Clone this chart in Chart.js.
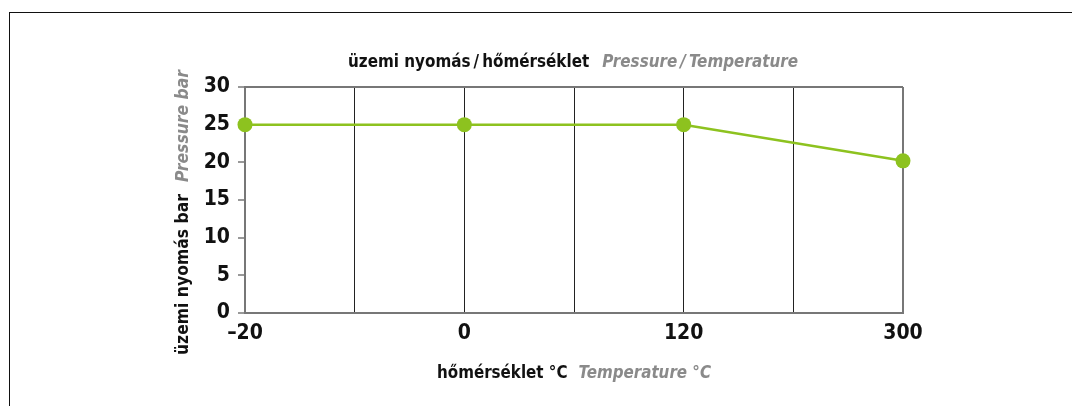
<!DOCTYPE html>
<html>
<head>
<meta charset="utf-8">
<script src="https://cdn.jsdelivr.net/npm/chart.js@4/dist/chart.umd.min.js"></script>
<style>
  html, body { margin: 0; padding: 0; background: #fff; }
  #wrap { position: relative; width: 1072px; height: 406px; }
  #frame {
    position: absolute; left: 9px; top: 12px; right: 0; bottom: 0;
    border-top: 1.5px solid #111; border-left: 1.5px solid #111;
  }
  canvas { position: absolute; left: 0; top: 0; }
</style>
</head>
<body>
<div id="wrap">
  <div id="frame"></div>
  <canvas id="chart" width="1072" height="406"></canvas>
</div>
<script>
// temperatures (°C) on the x axis, pressures (bar) on the y axis
const temperatures = ["\u201320", "0", "120", "300"];
const pressures = [25, 25, 25, 20.2];
const yTicks = [0, 5, 10, 15, 20, 25, 30];

const FONT = "'Liberation Sans Narrow', 'DejaVu Sans Condensed', 'Roboto', sans-serif";
const GREEN = "#8dc21f";
const EDGE = "#777";

// two-part label: bold black + bold italic gray, squeezed to a given width
function drawTwoTone(ctx, black, gray, size, width, gap) {
  ctx.font = "bold " + size + "px " + FONT;
  const w1 = ctx.measureText(black).width;
  ctx.font = "italic bold " + size + "px " + FONT;
  const w2 = ctx.measureText(gray).width;
  const sx = (width - gap) / (w1 + w2);
  ctx.textAlign = "left";
  ctx.textBaseline = "alphabetic";
  const x0 = -width / 2;
  ctx.save();
  ctx.translate(x0, 0);
  ctx.scale(sx, 1);
  ctx.font = "bold " + size + "px " + FONT;
  ctx.fillStyle = "#111";
  ctx.fillText(black, 0, 0);
  ctx.restore();
  ctx.save();
  ctx.translate(x0 + w1 * sx + gap, 0);
  ctx.scale(sx, 1);
  ctx.font = "italic bold " + size + "px " + FONT;
  ctx.fillStyle = "#8a8a8a";
  ctx.fillText(gray, 0, 0);
  ctx.restore();
}

const titles = {
  id: "titles",
  afterDraw(chart) {
    const ctx = chart.ctx;
    ctx.save();
    ctx.translate(573, 67);
    drawTwoTone(ctx, "üzemi nyomás\u2009/\u2009hőmérséklet", "Pressure\u2009/\u2009Temperature", 18, 450, 13);
    ctx.restore();

    ctx.save();
    ctx.translate(574, 378);
    drawTwoTone(ctx, "hőmérséklet °C", "Temperature °C", 18, 274, 11);
    ctx.restore();

    ctx.save();
    ctx.translate(188, 212.5);
    ctx.rotate(-Math.PI / 2);
    drawTwoTone(ctx, "üzemi nyomás bar", "Pressure bar", 18, 285, 12);
    ctx.restore();
  }
};

const points = pressures.map((p, i) => ({ x: i, y: p }));

new Chart(document.getElementById("chart"), {
  type: "line",
  data: {
    datasets: [{
      data: points,
      borderColor: GREEN,
      backgroundColor: GREEN,
      borderWidth: 2.5,
      pointRadius: 7.5,
      pointHoverRadius: 7.5,
      pointBorderWidth: 0,
      tension: 0,
      clip: false
    }]
  },
  options: {
    responsive: false,
    animation: false,
    layout: { padding: { left: 0, right: 169, top: 87, bottom: 0 } },
    plugins: { legend: { display: false }, tooltip: { enabled: false } },
    scales: {
      x: {
        type: "linear",
        min: 0,
        max: temperatures.length - 1,
        afterFit: s => { s.height = 93; },
        afterBuildTicks: s => {
          const t = [];
          for (let v = 0; v <= temperatures.length - 1; v += 0.5) t.push({ value: v });
          s.ticks = t;
        },
        ticks: {
          autoSkip: false,
          maxRotation: 0,
          padding: 8,
          color: "#111",
          font: { family: FONT, size: 21, weight: "bold" },
          callback: v => Number.isInteger(v) ? temperatures[v] : ""
        },
        grid: {
          drawTicks: false,
          color: c => (c.tick && (c.tick.value === 0 || c.tick.value === temperatures.length - 1)) ? EDGE : "#222",
          lineWidth: c => (c.tick && (c.tick.value === 0 || c.tick.value === temperatures.length - 1)) ? 2 : 1
        },
        border: { display: true, color: EDGE, width: 2 }
      },
      y: {
        min: 0,
        max: 30,
        afterFit: s => { s.width = 245; },
        afterBuildTicks: s => { s.ticks = yTicks.map(v => ({ value: v })); },
        ticks: {
          padding: 8,
          color: "#111",
          font: { family: FONT, size: 21, weight: "bold" }
        },
        grid: {
          tickLength: 7,
          tickColor: EDGE,
          tickWidth: 1.5,
          color: c => (c.tick && c.tick.value === 30) ? EDGE : "rgba(0,0,0,0)",
          lineWidth: 2
        },
        border: { display: true, color: EDGE, width: 2 }
      }
    }
  },
  plugins: [titles]
});
</script>
</body>
</html>
